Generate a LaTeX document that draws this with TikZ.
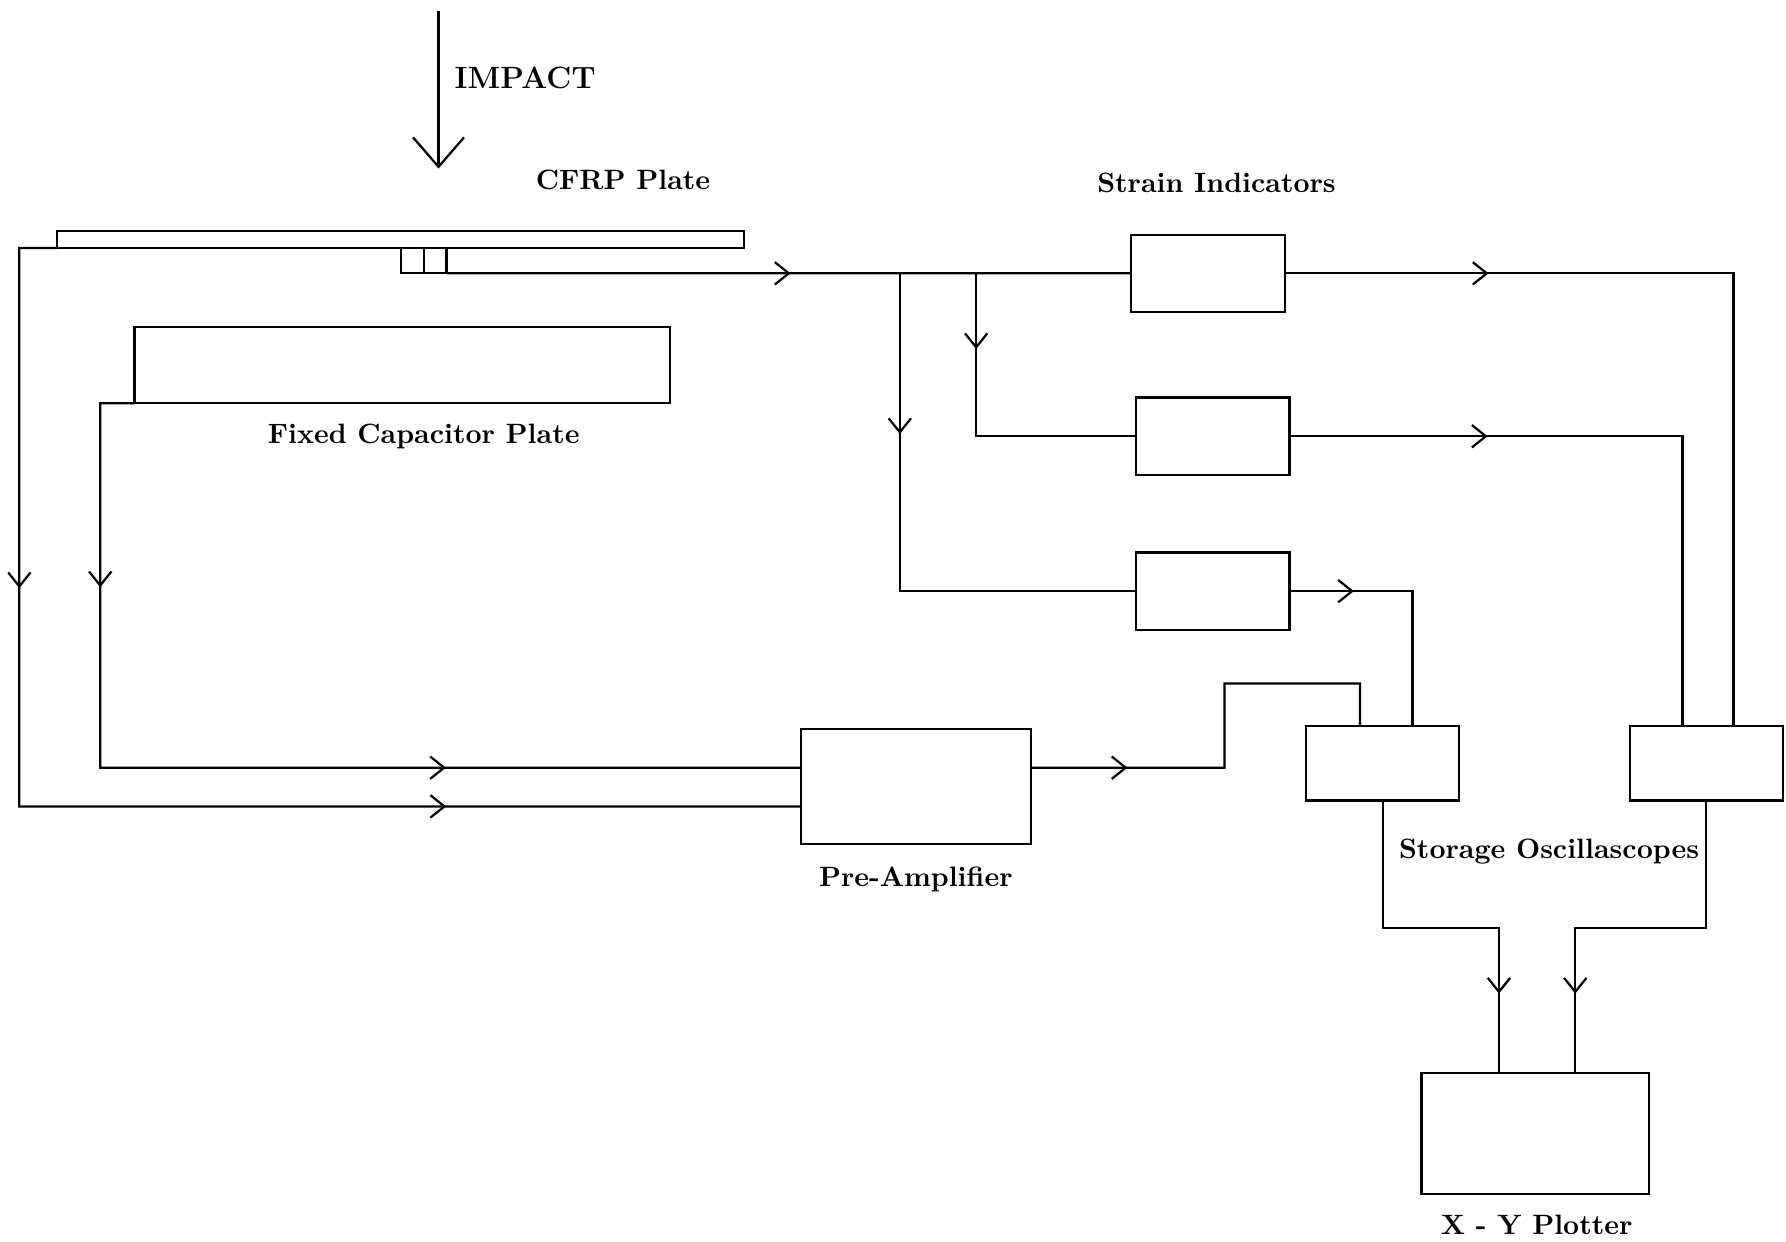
\documentclass[tikz,border=0pt]{standalone}
\usetikzlibrary{arrows.meta}

\tikzset{
  box/.style={draw, inner sep=0pt, outer sep=0pt, line width=0.8pt},
  tag/.style={font=\bfseries},
  midarrow/.pic={\draw[line width=0.8pt] (-5pt,4pt) -- (0,0) -- (-5pt,-4pt);}
}

\begin{document}
\begin{tikzpicture}[x=1.43cm, y=1.43cm, line width=0.8pt]
    \useasboundingbox (0,0) rectangle (15.68,10.90);

    % impact and the two plates
    \coordinate (impacttop) at (3.85,10.80);
    \coordinate (impacttip) at (3.85,9.42);
    \draw [-{Straight Barb[length=0.37cm, width=0.64cm]}] (impacttop) -- (impacttip);
    \node [tag, anchor=west] (impact) at (3.90,10.22) {\fontsize{11}{13}\selectfont IMPACT};

    \node [tag] (cfrplabel) at (5.47,9.32) {CFRP Plate};
    \node [box, minimum width=8.62cm, minimum height=0.21cm] (cfrp) at (3.515,8.795) {};
    \node [box, minimum width=0.286cm, minimum height=0.315cm] (gauge1) at (3.62,8.61) {};
    \node [box, minimum width=0.286cm, minimum height=0.315cm] (gauge2) at (3.82,8.61) {};

    \node [box, minimum width=6.72cm, minimum height=0.96cm] (fixed) at (3.53,7.695) {};
    \node [tag] (fixedlabel) at (3.72,7.07) {Fixed Capacitor Plate};

    % strain indicators
    \node [tag] (strainlabel) at (10.68,9.29) {Strain Indicators};
    \node [box, minimum width=1.93cm, minimum height=0.97cm] (strain1) at (10.605,8.50) {};
    \node [box, minimum width=1.93cm, minimum height=0.97cm] (strain2) at (10.645,7.07) {};
    \node [box, minimum width=1.93cm, minimum height=0.97cm] (strain3) at (10.645,5.71) {};

    % pre-amplifier, oscilloscopes, plotter
    \node [box, minimum width=2.89cm, minimum height=1.44cm] (preamp) at (8.04,3.995) {};
    \node [tag] (preamplabel) at (8.04,3.18) {Pre-Amplifier};
    \node [box, minimum width=1.92cm, minimum height=0.94cm] (scope1) at (12.14,4.20) {};
    \node [box, minimum width=1.92cm, minimum height=0.94cm] (scope2) at (14.98,4.20) {};
    \node [tag] (scopelabel) at (13.60,3.42) {Storage Oscillascopes};
    \node [box, minimum width=2.86cm, minimum height=1.52cm] (plotter) at (13.48,0.95) {};
    \node [tag] (plotterlabel) at (13.49,0.15) {X - Y Plotter};

    % gauge signal to the strain indicators
    \coordinate (joinA) at (7.90,8.50);
    \coordinate (joinB) at (8.57,8.50);
    \draw (gauge2.south east) -- pic[pos=0.5, sloped]{midarrow} (strain1.west);
    \draw (joinA) |- pic[pos=0.25, sloped]{midarrow} (strain3.west);
    \draw (joinB) |- pic[pos=0.227, sloped]{midarrow} (strain2.west);

    \draw (strain1.east) -| pic[pos=0.225, sloped]{midarrow} ([xshift=0.343cm]scope2.north);
    \draw (strain2.east) -| pic[pos=0.25, sloped]{midarrow} ([xshift=-0.30cm]scope2.north);
    \draw (strain3.east) -| pic[pos=0.255, sloped]{midarrow} ([xshift=0.372cm]scope1.north);

    % capacitor wires through the pre-amplifier
    \draw (cfrp.south west) -| pic[pos=0.803, sloped]{midarrow} (0.17,3.82)
        -- pic[pos=0.544, sloped]{midarrow} ([yshift=-0.25cm]preamp.west);
    \draw (fixed.south west) -| pic[pos=0.75, sloped]{midarrow} (0.88,4.16)
        -- pic[pos=0.491, sloped]{midarrow} ([yshift=0.236cm]preamp.west);
    \draw ([yshift=0.236cm]preamp.east) -- pic[pos=0.49, sloped]{midarrow} (10.75,4.16)
        -- (10.75,4.90) -| ([xshift=-0.286cm]scope1.north);

    % oscilloscopes to the plotter
    \draw (scope1.south) -- (12.14,2.75) -| pic[pos=0.72, sloped]{midarrow} ([xshift=-0.458cm]plotter.north);
    \draw (scope2.south) -- (14.98,2.75) -| pic[pos=0.72, sloped]{midarrow} ([xshift=0.50cm]plotter.north);
\end{tikzpicture}
\end{document}
